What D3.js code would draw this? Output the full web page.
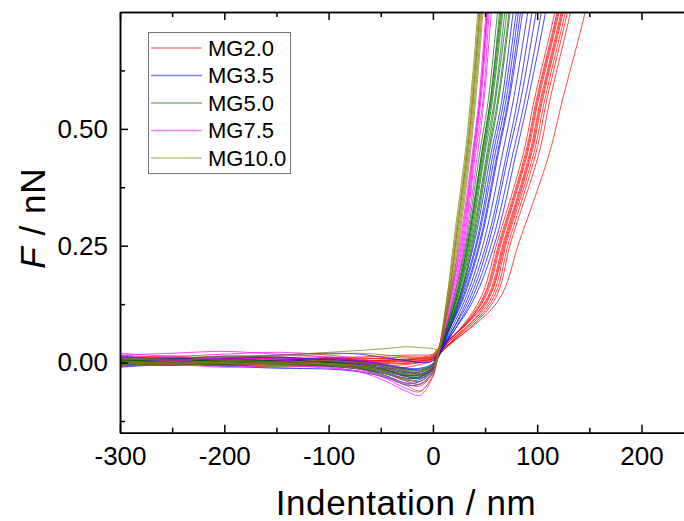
<!DOCTYPE html>
<html>
<head>
<meta charset="utf-8">
<script src="https://cdn.jsdelivr.net/npm/d3@7/dist/d3.min.js"></script>
<style>
body { margin: 0; background: #fff; }
text { font-family: "Liberation Sans", Arial, sans-serif; fill: #000; }
</style>
</head>
<body>
<script>
//series names and colours
var seriesNames = ["MG2.0", "MG3.5", "MG5.0", "MG7.5", "MG10.0"];
var seriesColors = ["#ff0000", "#0000ff", "#006a00", "#ff00ff", "#808000"];

//x positions (nm) of the approach part, F values are per curve
var approachX = [-300, -250, -200, -150, -100, -70, -45, -25, -12, 0, 4];
//force levels (nN) of the contact part, x values are per curve
var riseF = [0.13, 0.26, 0.45, 0.56, 0.75, 0.85];

//MG2.0 curves
var mg20Approach = [
    [0.004, 0.008, 0.002, 0.006, 0.003, 0.005, 0.002, 0.004, 0.006, 0.010, 0.020],
    [0.012, 0.006, 0.010, 0.004, 0.008, 0.004, 0.006, 0.008, 0.010, 0.014, 0.024],
    [-0.004, 0.002, -0.006, 0.000, -0.003, 0.001, -0.002, 0.000, 0.004, 0.008, 0.016],
    [0.008, 0.014, 0.006, 0.010, 0.012, 0.008, 0.010, 0.012, 0.012, 0.016, 0.026],
    [0.000, -0.004, 0.003, -0.002, 0.002, -0.004, -0.006, -0.004, 0.000, 0.006, 0.014],
    [0.016, 0.010, 0.012, 0.008, 0.006, 0.010, 0.008, 0.006, 0.008, 0.012, 0.022],
    [-0.008, -0.002, -0.004, -0.010, -0.006, -0.008, -0.012, -0.010, -0.004, 0.004, 0.012],
    [0.006, 0.000, 0.008, 0.012, 0.004, 0.002, 0.004, 0.002, 0.004, 0.008, 0.018],
    [0.002, 0.010, 0.004, -0.002, 0.010, 0.012, 0.014, 0.016, 0.016, 0.018, 0.028],
    [0.010, 0.004, -0.002, 0.004, 0.000, -0.002, 0.000, -0.002, 0.002, 0.008, 0.016],
    [0.006, 0.002, 0.006, 0.004, 0.008, 0.006, 0.004, 0.006, 0.008, 0.012, 0.020]
];
var mg20Rise = [
    [46, 64, 89, 99, 119, 128],
    [48, 66, 91, 101, 121, 130],
    [44, 62, 87, 97, 117, 126],
    [50, 68, 93, 103, 123, 132],
    [52, 70, 95, 105, 125, 134],
    [54, 71, 97, 107, 127, 136],
    [47, 65, 90, 100, 120, 129],
    [56, 73, 99, 109, 129, 138],
    [51, 69, 94, 104, 124, 133],
    [58, 75, 102, 112, 132, 141],
    [62, 83, 112, 124, 146, 155]
];

//MG3.5 curves
var mg35Approach = [
    [0.004, 0.010, 0.002, 0.006, 0.000, -0.006, -0.014, -0.022, -0.020, -0.006, 0.014],
    [-0.006, 0.000, -0.004, -0.002, -0.008, -0.014, -0.024, -0.034, -0.030, -0.012, 0.008],
    [0.012, 0.006, 0.014, 0.010, 0.006, 0.002, -0.006, -0.014, -0.016, -0.004, 0.018],
    [0.000, -0.006, 0.002, -0.004, -0.004, -0.012, -0.028, -0.044, -0.040, -0.016, 0.006],
    [0.008, 0.002, 0.006, 0.012, 0.004, -0.002, -0.010, -0.020, -0.024, -0.010, 0.012],
    [-0.010, -0.004, -0.008, -0.012, -0.014, -0.020, -0.032, -0.048, -0.046, -0.020, 0.004],
    [0.002, 0.008, 0.004, 0.000, 0.002, -0.004, -0.016, -0.028, -0.026, -0.010, 0.014],
    [0.014, 0.008, 0.010, 0.016, 0.020, 0.018, 0.010, 0.004, 0.000, 0.004, 0.020],
    [-0.002, 0.004, -0.002, 0.002, -0.006, -0.010, -0.020, -0.030, -0.034, -0.014, 0.008],
    [0.006, 0.000, 0.008, 0.004, 0.010, 0.004, -0.004, -0.012, -0.012, -0.002, 0.016]
];
var mg35Rise = [
    [24, 40, 56, 66, 77, 83],
    [26, 43, 60, 70, 82, 88],
    [28, 46, 63, 73, 86, 92],
    [25, 42, 58, 68, 80, 86],
    [30, 49, 67, 77, 91, 98],
    [32, 52, 71, 81, 95, 102],
    [34, 54, 73, 84, 99, 106],
    [27, 45, 62, 72, 84, 90],
    [36, 57, 77, 88, 104, 111],
    [38, 60, 80, 91, 108, 115]
];

//MG5.0 curves
var mg50Approach = [
    [0.000, 0.004, -0.002, 0.002, -0.004, -0.010, -0.018, -0.028, -0.026, -0.010, 0.012],
    [0.006, 0.002, 0.004, 0.000, 0.002, -0.004, -0.012, -0.020, -0.020, -0.006, 0.016],
    [-0.004, 0.000, -0.006, -0.002, -0.006, -0.012, -0.022, -0.034, -0.032, -0.012, 0.008],
    [0.002, -0.002, 0.002, 0.004, 0.000, -0.006, -0.014, -0.024, -0.024, -0.008, 0.012],
    [0.004, 0.008, 0.002, -0.002, 0.002, -0.002, -0.008, -0.016, -0.018, -0.006, 0.018],
    [-0.002, -0.006, -0.002, -0.004, -0.008, -0.014, -0.024, -0.038, -0.036, -0.014, 0.006],
    [0.008, 0.004, 0.006, 0.002, 0.004, 0.000, -0.006, -0.014, -0.014, -0.004, 0.018],
    [-0.006, -0.002, -0.004, -0.008, -0.004, -0.008, -0.016, -0.026, -0.028, -0.012, 0.010],
    [0.002, 0.006, 0.000, 0.002, -0.002, -0.006, -0.016, -0.030, -0.030, -0.010, 0.012]
];
var mg50Rise = [
    [19, 32, 45, 53, 62, 67],
    [20, 33, 47, 55, 64, 69],
    [21, 34, 48, 56, 66, 71],
    [22, 35, 49, 57, 67, 72],
    [22, 36, 50, 59, 69, 74],
    [23, 37, 52, 60, 71, 76],
    [24, 38, 53, 62, 73, 78],
    [25, 39, 54, 63, 74, 79],
    [21, 34, 47, 55, 65, 70]
];

//MG7.5 curves
var mg75Approach = [
    [0.016, 0.020, 0.024, 0.018, 0.012, 0.004, -0.012, -0.034, -0.040, -0.014, 0.012],
    [-0.004, 0.002, -0.002, -0.006, -0.010, -0.020, -0.040, -0.062, -0.070, -0.030, 0.004],
    [0.008, 0.012, 0.006, 0.010, 0.004, -0.004, -0.020, -0.040, -0.046, -0.020, 0.010],
    [0.010, 0.004, 0.010, 0.006, -0.004, -0.014, -0.034, -0.056, -0.062, -0.026, 0.006],
    [-0.008, -0.004, -0.010, -0.006, -0.012, -0.018, -0.030, -0.046, -0.050, -0.022, 0.008],
    [0.020, 0.014, 0.018, 0.022, 0.016, 0.008, -0.004, -0.018, -0.024, -0.008, 0.016]
];
var mg75Rise = [
    [15, 26, 38, 44, 51, 55],
    [16, 28, 39, 45, 52, 56],
    [17, 29, 40, 46, 53, 57],
    [18, 30, 41, 48, 54, 58],
    [19, 31, 43, 49, 56, 60],
    [16, 27, 39, 45, 52, 56]
];

//MG10.0 curves
var mg100Approach = [
    [0.006, 0.010, 0.014, 0.016, 0.022, 0.026, 0.030, 0.034, 0.032, 0.030, 0.028],
    [0.000, -0.004, 0.002, -0.002, -0.006, -0.014, -0.030, -0.050, -0.060, -0.030, 0.004],
    [0.004, 0.000, 0.004, 0.002, -0.002, -0.006, -0.014, -0.024, -0.026, -0.010, 0.012],
    [-0.004, 0.002, -0.002, 0.000, 0.004, 0.000, -0.008, -0.018, -0.020, -0.006, 0.016],
    [0.010, 0.006, 0.012, 0.014, 0.018, 0.020, 0.016, 0.012, 0.010, 0.010, 0.022],
    [0.002, -0.002, 0.000, -0.004, -0.002, -0.008, -0.020, -0.036, -0.040, -0.018, 0.008],
    [-0.006, -0.002, -0.006, -0.002, -0.004, -0.010, -0.024, -0.040, -0.046, -0.022, 0.006]
];
var mg100Rise = [
    [13, 21, 32, 37, 44, 47],
    [14, 22, 33, 38, 45, 48],
    [13, 20, 31, 36, 43, 46],
    [15, 24, 35, 40, 47, 50],
    [16, 25, 36, 41, 48, 51],
    [14, 23, 34, 39, 46, 49],
    [15, 22, 33, 38, 45, 48]
];

//axis ticks
var xMajorTicks = [-300, -200, -100, 0, 100, 200];
var xMinorTicks = [-250, -150, -50, 50, 150, 250];
var yMajorTicks = [0, 0.25, 0.5];
var yMinorTicks = [-0.125, 0.125, 0.375, 0.625];

var approachSets = [mg20Approach, mg35Approach, mg50Approach, mg75Approach, mg100Approach];
var riseSets = [mg20Rise, mg35Rise, mg50Rise, mg75Rise, mg100Rise];

//svg area
var svgWidth = 684;
var svgHeight = 521;

var margin = {left: 120, top: 12};
var plotWidth = 625.8;
var plotHeight = 420.7;

var svg = d3.select("body")
    .append("svg")
    .attr("width", svgWidth)
    .attr("height", svgHeight);

//scales
var xScale = d3.scaleLinear().domain([-300, 300]).range([0, plotWidth]);
var yScale = d3.scaleLinear().domain([-0.15, 0.75]).range([plotHeight, 0]);

var chartgroup = svg.append("g")
    .attr("transform", `translate(${margin.left}, ${margin.top})`);

chartgroup.append("clipPath")
    .attr("id", "plotclip")
    .append("rect")
    .attr("width", plotWidth)
    .attr("height", plotHeight);

//build curve point lists
var curves = [];
approachSets.forEach(function(set, s) {
    set.forEach(function(fs, c) {
        var pts = approachX.map(function(x, i) { return [x, fs[i]]; });
        riseSets[s][c].forEach(function(x, i) { pts.push([x, riseF[i]]); });
        curves.push({series: s, points: pts});
    });
});

var line = d3.line()
    .x(d => xScale(d[0]))
    .y(d => yScale(d[1]))
    .curve(d3.curveCatmullRom.alpha(0.5));

chartgroup.append("g")
    .attr("clip-path", "url(#plotclip)")
    .selectAll("path")
    .data(curves)
    .enter()
    .append("path")
    .attr("d", d => line(d.points))
    .attr("fill", "none")
    .attr("stroke", d => seriesColors[d.series])
    .attr("stroke-width", 0.9)
    .attr("stroke-opacity", 0.8);

//axes, ticks point inward
function styleAxis(g) {
    g.select(".domain").attr("stroke", "#000").attr("stroke-width", 1.5);
    g.selectAll(".tick line").attr("stroke", "#000").attr("stroke-width", 1.5);
}

var bottomaxis = d3.axisBottom(xScale).tickValues(xMajorTicks).tickSizeInner(-8).tickSizeOuter(0)
    .tickPadding(14).tickFormat(d => String(d));
var bottomminor = d3.axisBottom(xScale).tickValues(xMinorTicks).tickSizeInner(-5).tickSizeOuter(0).tickFormat("");
var topaxis = d3.axisTop(xScale).tickValues(xMajorTicks).tickSizeInner(-8).tickSizeOuter(0).tickFormat("");
var topminor = d3.axisTop(xScale).tickValues(xMinorTicks).tickSizeInner(-5).tickSizeOuter(0).tickFormat("");
var leftaxis = d3.axisLeft(yScale).tickValues(yMajorTicks).tickSizeInner(-8).tickSizeOuter(0)
    .tickPadding(12).tickFormat(d3.format(".2f"));
var leftminor = d3.axisLeft(yScale).tickValues(yMinorTicks).tickSizeInner(-5).tickSizeOuter(0).tickFormat("");

var gBottom = chartgroup.append("g").attr("transform", `translate(0, ${plotHeight})`).call(bottomaxis).call(styleAxis);
chartgroup.append("g").attr("transform", `translate(0, ${plotHeight})`).call(bottomminor).call(styleAxis);
chartgroup.append("g").call(topaxis).call(styleAxis);
chartgroup.append("g").call(topminor).call(styleAxis);
var gLeft = chartgroup.append("g").call(leftaxis).call(styleAxis);
chartgroup.append("g").call(leftminor).call(styleAxis);

gBottom.selectAll(".tick text")
    .attr("font-family", null)
    .style("font-size", "26px")
    .attr("dy", "0.71em");
gLeft.selectAll(".tick text")
    .attr("font-family", null)
    .style("font-size", "26px");

//axis titles
svg.append("text")
    .attr("x", 406)
    .attr("y", 515)
    .attr("text-anchor", "middle")
    .style("font-size", "35px")
    .style("letter-spacing", "0.6px")
    .text("Indentation / nm");

var ytitle = svg.append("text")
    .attr("transform", "translate(45, 218) rotate(-90)")
    .attr("text-anchor", "middle")
    .style("font-size", "35px")
    .style("letter-spacing", "1px");
ytitle.append("tspan").style("font-style", "italic").text("F");
ytitle.append("tspan").text(" / nN");

//legend
var legend = svg.append("g");
legend.append("rect")
    .attr("x", 148.5)
    .attr("y", 32.5)
    .attr("width", 142)
    .attr("height", 141)
    .attr("fill", "#fff")
    .attr("stroke", "#777")
    .attr("stroke-width", 1);

var rows = legend.selectAll("g.row")
    .data(seriesNames)
    .enter()
    .append("g")
    .attr("class", "row")
    .attr("transform", (d, i) => `translate(0, ${48 + i * 27.5})`);

rows.append("line")
    .attr("x1", 151)
    .attr("x2", 202)
    .attr("stroke", (d, i) => seriesColors[i])
    .attr("stroke-width", 1.6)
    .attr("stroke-opacity", 0.5);

rows.append("text")
    .attr("x", 208)
    .attr("dy", "0.36em")
    .style("font-size", "22px")
    .text(d => d);
</script>
</body>
</html>
